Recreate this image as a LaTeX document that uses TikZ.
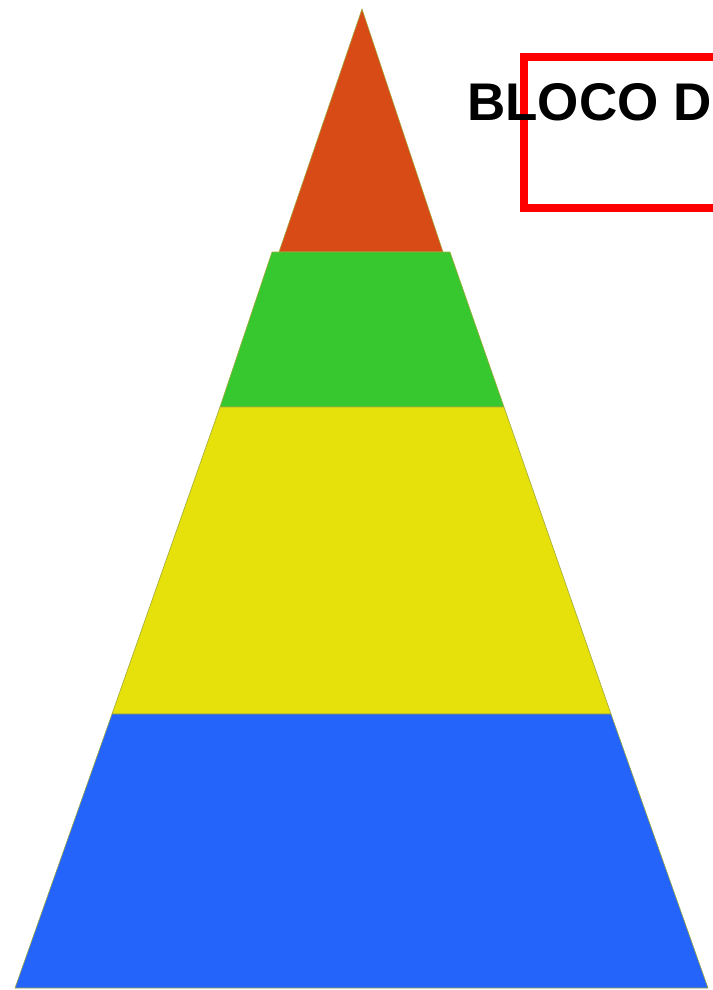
\documentclass[tikz,border=0pt]{standalone}
\usepackage{fontspec}
\setmainfont{Liberation Sans}
\definecolor{topred}{RGB}{217,75,22}
\definecolor{lvgreen}{RGB}{54,200,46}
\definecolor{lvyellow}{RGB}{230,225,10}
\definecolor{lvblue}{RGB}{36,100,250}
\definecolor{edgeol}{RGB}{160,170,60}
\definecolor{boxred}{RGB}{255,0,0}
\begin{document}
\begin{tikzpicture}[x=1pt,y=-1pt,
  layer/.style={draw=edgeol,line width=0.6pt}]
\useasboundingbox (0,0) rectangle (712,990);
\fill[white] (0,0) rectangle (712,990);
% pyramid layers
\filldraw[layer,fill=topred] (362,9) -- (443,252) -- (279,252) -- cycle;
\filldraw[layer,fill=lvgreen] (272,252) -- (450,252) -- (504,407) -- (220,407) -- cycle;
\filldraw[layer,fill=lvyellow] (220,407) -- (504,407) -- (611,714) -- (112,714) -- cycle;
\filldraw[layer,fill=lvblue] (112,714) -- (611,714) -- (708,988) -- (15,988) -- cycle;
% red box
\draw[boxred,line width=8pt] (524,57.5) rectangle (820,207.5);
\node[anchor=base west,inner sep=0pt,font=\fontsize{53}{53}\selectfont\bfseries] (title) at (467,120) {BLOCO D};
\end{tikzpicture}
\end{document}
